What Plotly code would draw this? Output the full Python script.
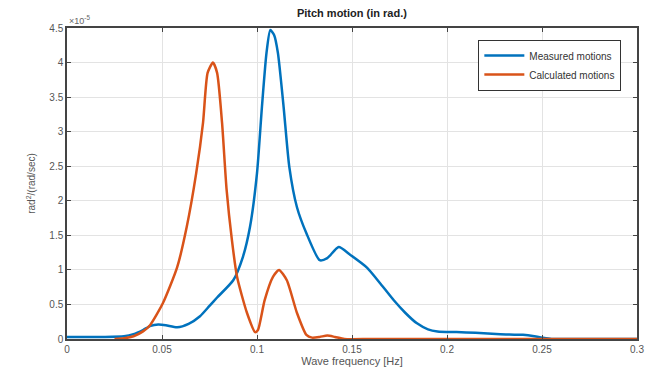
import plotly.graph_objects as go

# Data (values in units of 1e-5 rad^2/(rad/sec))
meas_x = [0.0, 0.01, 0.02, 0.03, 0.035, 0.04, 0.044, 0.048, 0.052, 0.058, 0.064, 0.07, 0.075, 0.079,
          0.0875, 0.0926, 0.0963, 0.1, 0.1026, 0.105, 0.107, 0.109, 0.111, 0.114, 0.117, 0.121,
          0.126, 0.133, 0.137, 0.143, 0.149, 0.158, 0.165, 0.172, 0.178, 0.184, 0.19, 0.195,
          0.205, 0.215, 0.228, 0.24, 0.246, 0.25, 0.255, 0.27, 0.3]
meas_y = [0.03, 0.03, 0.03, 0.04, 0.07, 0.13, 0.19, 0.21, 0.2, 0.17, 0.22, 0.33, 0.48, 0.6,
          0.85, 1.19, 1.62, 2.4, 3.36, 4.14, 4.47, 4.4, 4.14, 3.36, 2.49, 1.91,
          1.53, 1.14, 1.17, 1.33, 1.22, 1.03, 0.8, 0.56, 0.38, 0.23, 0.14, 0.11,
          0.1, 0.09, 0.07, 0.06, 0.04, 0.02, 0.0, 0.0, 0.0]

calc_x = [0.025, 0.03, 0.035, 0.04, 0.0437, 0.0505, 0.058, 0.063, 0.068, 0.0716, 0.074, 0.0768,
          0.079, 0.0816, 0.084, 0.0868, 0.0895, 0.0947, 0.099, 0.1005, 0.104, 0.1084, 0.1116,
          0.1157, 0.121, 0.126, 0.129, 0.133, 0.137, 0.141, 0.146, 0.16, 0.2, 0.25, 0.3]
calc_y = [0.0, 0.01, 0.04, 0.11, 0.2, 0.52, 1.04, 1.62, 2.4, 3.13, 3.85, 4.0,
          3.85, 3.13, 2.16, 1.43, 0.9, 0.38, 0.1, 0.13, 0.56, 0.9, 1.0,
          0.85, 0.38, 0.06, 0.02, 0.03, 0.05, 0.03, 0.0, 0.0, 0.0, 0.0, 0.0]

x_ticks = [0, 0.05, 0.1, 0.15, 0.2, 0.25, 0.3]
x_labels = ["0", "0.05", "0.1", "0.15", "0.2", "0.25", "0.3"]
y_ticks = [0, 0.5, 1, 1.5, 2, 2.5, 3, 3.5, 4, 4.5]
y_labels = ["0", "0.5", "1", "1.5", "2", "2.5", "3", "3.5", "4", "4.5"]

fig = go.Figure()
fig.add_trace(go.Scatter(x=meas_x, y=meas_y, mode="lines", name="Measured motions",
                         line=dict(color="#0072BD", width=2.5, shape="spline", smoothing=0.6)))
fig.add_trace(go.Scatter(x=calc_x, y=calc_y, mode="lines", name="Calculated motions",
                         line=dict(color="#D95319", width=2.5, shape="spline", smoothing=0.6)))

font_family = "Liberation Sans, Arial, sans-serif"
fig.update_layout(
    width=664, height=381,
    margin=dict(l=67, r=27, t=28, b=42),
    paper_bgcolor="white", plot_bgcolor="white",
    font=dict(family=font_family, size=10, color="#555"),
    showlegend=True,
    legend=dict(x=0.972, y=0.962, xanchor="right", yanchor="top",
                bgcolor="white", bordercolor="#333", borderwidth=1.3,
                font=dict(size=10, color="#333"), tracegroupgap=0,
                itemwidth=40),
    xaxis=dict(range=[0, 0.3], tickvals=x_ticks, ticktext=x_labels,
               showgrid=True, gridcolor="#e3e3e3", gridwidth=1,
               ticks="inside", ticklen=4, tickcolor="#444",
               showline=True, linecolor="#444", linewidth=1.5, mirror="allticks",
               zeroline=False, tickfont=dict(size=10, color="#555"),
               title=dict(text="Wave frequency [Hz]", font=dict(size=11, color="#555"), standoff=4)),
    yaxis=dict(range=[0, 4.5], tickvals=y_ticks, ticktext=y_labels,
               showgrid=True, gridcolor="#e3e3e3", gridwidth=1,
               ticks="inside", ticklen=4, tickcolor="#444",
               showline=True, linecolor="#444", linewidth=1.5, mirror="allticks",
               zeroline=False, tickfont=dict(size=10, color="#555"),
               title=dict(text="rad<sup>2</sup>/(rad/sec)", font=dict(size=10, color="#555"), standoff=12)),
    title=dict(text="<b>Pitch motion (in rad.)</b>", x=0.53, xanchor="center", y=0.966, yanchor="middle",
               font=dict(size=11, color="#222")),
)
fig.add_annotation(text="×10<sup>-5</sup>", xref="paper", yref="paper", x=0, y=1.0,
                   xanchor="left", yanchor="bottom", showarrow=False,
                   font=dict(size=9, color="#666"))

fig.write_html("out.html")
